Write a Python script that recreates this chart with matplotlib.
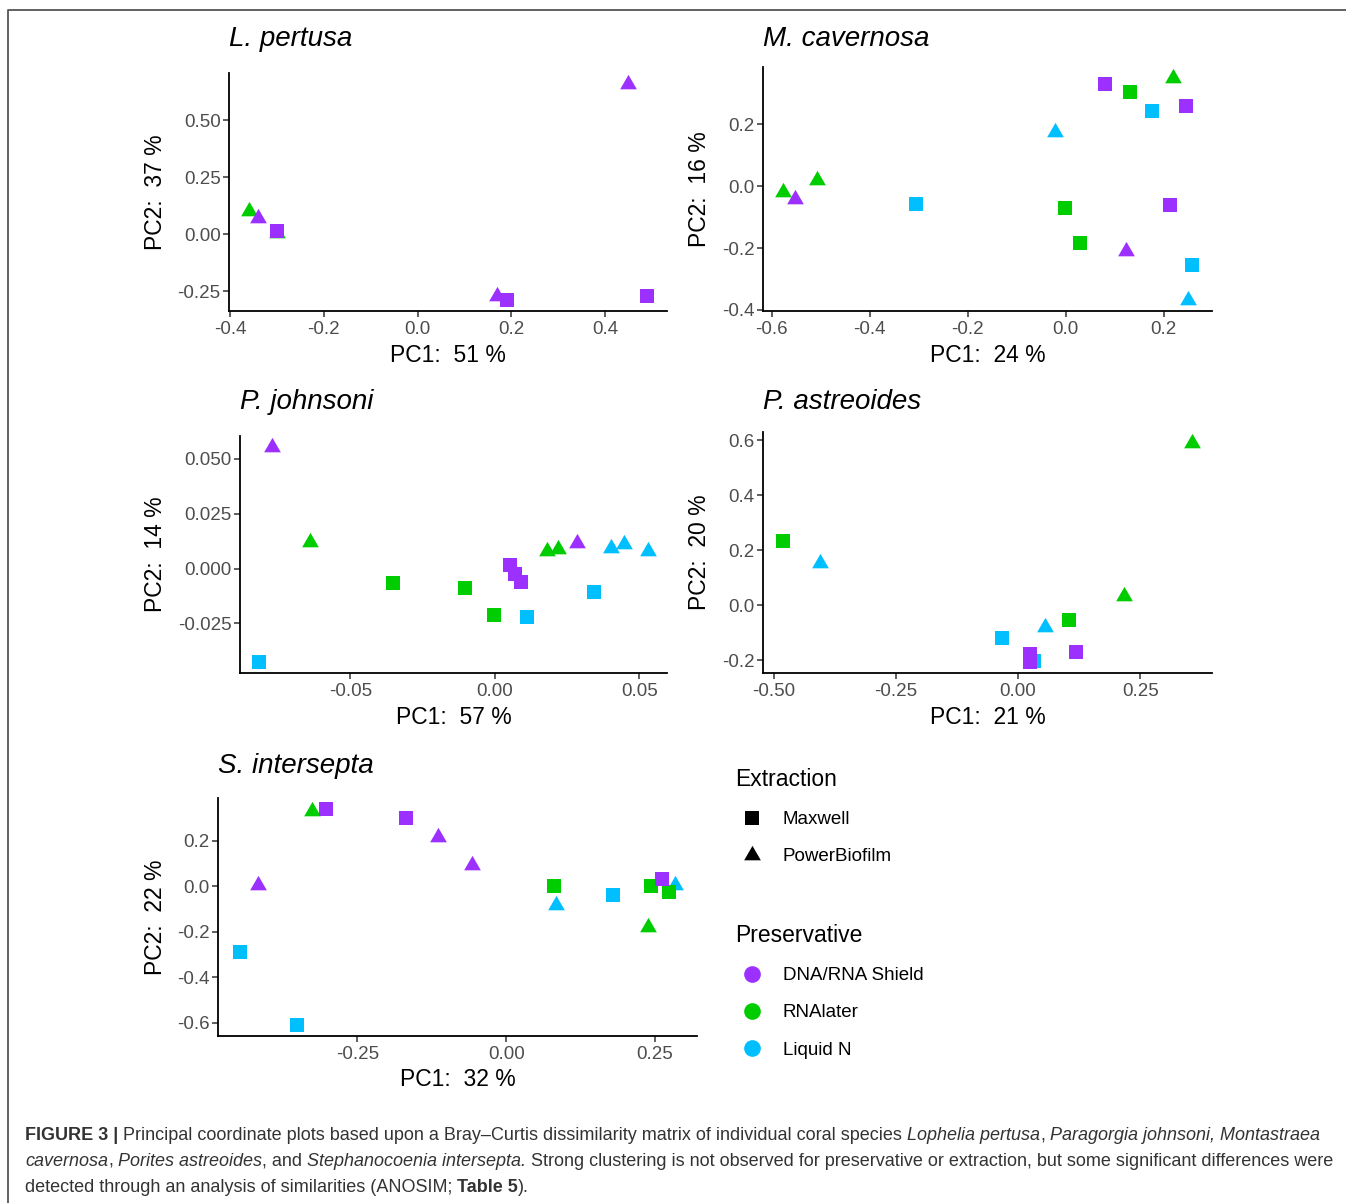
import matplotlib
matplotlib.use('Agg')
import matplotlib.pyplot as plt
from matplotlib.lines import Line2D
from matplotlib.ticker import MultipleLocator, FormatStrFormatter

W, H = 1346, 1203

plt.rcParams['font.family'] = ['Liberation Sans', 'DejaVu Sans']
plt.rcParams['axes.unicode_minus'] = False

# preservative: S = DNA/RNA Shield, R = RNAlater, L = Liquid N
# extraction:   M = Maxwell, P = PowerBiofilm
PRES_NAMES = ['DNA/RNA Shield', 'RNAlater', 'Liquid N']
PRES_KEYS = ['S', 'R', 'L']
EXT_NAMES = ['Maxwell', 'PowerBiofilm']
EXT_KEYS = ['M', 'P']

# L. pertusa
LP_PC1 = [-0.36, -0.34, -0.30, -0.30, 0.17, 0.19, 0.45, 0.49]
LP_PC2 = [0.10, 0.07, 0.005, 0.015, -0.27, -0.29, 0.66, -0.27]
LP_PRES = ['R', 'S', 'R', 'S', 'S', 'S', 'S', 'S']
LP_EXT = ['P', 'P', 'P', 'M', 'P', 'M', 'P', 'M']

# M. cavernosa
MC_PC1 = [-0.576, -0.553, -0.508, -0.305, -0.022, -0.002, 0.029, 0.081,
          0.131, 0.177, 0.220, 0.245, 0.212, 0.124, 0.257, 0.250]
MC_PC2 = [-0.020, -0.040, 0.020, -0.058, 0.175, -0.070, -0.185, 0.330,
          0.305, 0.242, 0.350, 0.259, -0.062, -0.211, -0.254, -0.368]
MC_PRES = ['R', 'S', 'R', 'L', 'L', 'R', 'R', 'S', 'R', 'L', 'R', 'S', 'S', 'S', 'L', 'L']
MC_EXT = ['P', 'P', 'P', 'M', 'P', 'M', 'M', 'M', 'M', 'M', 'P', 'M', 'M', 'P', 'M', 'P']

# P. johnsoni
PJ_PC1 = [-0.0773, -0.0639, -0.0815, -0.0352, -0.0102, -0.0004, 0.0113, 0.0051, 0.0069,
          0.0089, 0.0181, 0.0220, 0.0286, 0.0404, 0.0449, 0.0529, 0.0343]
PJ_PC2 = [0.0555, 0.0123, -0.0427, -0.0066, -0.0087, -0.0210, -0.0223, 0.0015, -0.0025,
          -0.0060, 0.0082, 0.0088, 0.0117, 0.0093, 0.0114, 0.0079, -0.0105]
PJ_PRES = ['S', 'R', 'L', 'R', 'R', 'R', 'L', 'S', 'S', 'S', 'R', 'R', 'S', 'L', 'L', 'L', 'L']
PJ_EXT = ['P', 'P', 'M', 'M', 'M', 'M', 'M', 'M', 'M', 'M', 'P', 'P', 'P', 'P', 'P', 'P', 'M']

# P. astreoides
PA_PC1 = [-0.480, -0.406, -0.033, 0.033, 0.024, 0.024, 0.055, 0.1045, 0.119, 0.216, 0.355]
PA_PC2 = [0.234, 0.155, -0.119, -0.205, -0.177, -0.207, -0.081, -0.0525, -0.171, 0.035, 0.590]
PA_PRES = ['R', 'L', 'L', 'L', 'S', 'S', 'L', 'R', 'S', 'R', 'R']
PA_EXT = ['M', 'P', 'M', 'M', 'M', 'M', 'P', 'M', 'M', 'P', 'P']

# S. intersepta
SI_PC1 = [-0.4476, -0.4177, -0.3518, -0.326, -0.3027, -0.169, -0.1147, -0.0566,
          0.081, 0.0844, 0.180, 0.2425, 0.238, 0.284, 0.273, 0.261]
SI_PC2 = [-0.288, 0.003, -0.610, 0.328, 0.339, 0.297, 0.215, 0.0907,
          0.0, -0.085, -0.037, 0.0, -0.180, 0.006, -0.026, 0.029]
SI_PRES = ['L', 'S', 'L', 'R', 'S', 'S', 'S', 'S', 'R', 'L', 'L', 'R', 'R', 'L', 'R', 'S']
SI_EXT = ['M', 'P', 'M', 'P', 'M', 'M', 'P', 'P', 'M', 'P', 'M', 'M', 'P', 'P', 'M', 'M']

COLORS = {'S': '#9B30FF', 'R': '#00CD00', 'L': '#00BFFF'}
TRI = [(-1, -0.577), (1, -0.577), (0, 1.155)]
MARKERS = {'M': 's', 'P': TRI}
MSIZE = {'M': 9.6, 'P': 13.9}

TICK_FS = 13.5
LAB_FS = 16.5
TITLE_FS = 20

fig = plt.figure(figsize=(W / 100, H / 100), dpi=100)


def fx(x):
    return x / W


def fy(y):
    return 1 - y / H


# (title, x, y, pres, ext, PC1 %, PC2 %, box l,t,r,b px, xstep, ystep, xfmt, yfmt, ylabel x, title y)
panels = [
    ('L. pertusa', LP_PC1, LP_PC2, LP_PRES, LP_EXT, 51, 37, (229, 73, 667, 311),
     0.2, 0.25, '%.1f', '%.2f', 155, 39),
    ('M. cavernosa', MC_PC1, MC_PC2, MC_PRES, MC_EXT, 24, 16, (763, 67, 1212, 311),
     0.2, 0.2, '%.1f', '%.1f', 700, 39),
    ('P. johnsoni', PJ_PC1, PJ_PC2, PJ_PRES, PJ_EXT, 57, 14, (240, 436, 667, 673),
     0.05, 0.025, '%.2f', '%.3f', 155, 402),
    ('P. astreoides', PA_PC1, PA_PC2, PA_PRES, PA_EXT, 21, 20, (763, 432, 1212, 673),
     0.25, 0.2, '%.2f', '%.1f', 700, 402),
    ('S. intersepta', SI_PC1, SI_PC2, SI_PRES, SI_EXT, 32, 22, (218, 798, 697, 1036),
     0.25, 0.2, '%.2f', '%.1f', 155, 766),
]

for (title, xs, ys, pres, ext, p1, p2, bx, xstep, ystep, xfmt, yfmt, ylx, ty) in panels:
    l, t, r, b = bx
    ax = fig.add_axes([fx(l), fy(b), (r - l) / W, (b - t) / H])
    for x, y, p, e in zip(xs, ys, pres, ext):
        ax.scatter([x], [y], marker=MARKERS[e], s=MSIZE[e] ** 2, color=COLORS[p],
                   linewidths=0, zorder=3)
    ax.margins(0.05)
    for side in ['top', 'right']:
        ax.spines[side].set_visible(False)
    for side in ['left', 'bottom']:
        ax.spines[side].set_linewidth(1.3)
        ax.spines[side].set_color('black')
    ax.xaxis.set_major_locator(MultipleLocator(xstep))
    ax.yaxis.set_major_locator(MultipleLocator(ystep))
    ax.xaxis.set_major_formatter(FormatStrFormatter(xfmt))
    ax.yaxis.set_major_formatter(FormatStrFormatter(yfmt))
    ax.tick_params(length=4, width=1.1, color='#333333', labelsize=TICK_FS,
                   labelcolor='#4D4D4D', pad=2)
    ax.tick_params(axis='x', pad=3.5)
    ax.set_xlabel('PC1:  %d %%' % p1, fontsize=LAB_FS, color='black')
    ax.set_ylabel('PC2:  %d %%' % p2, fontsize=LAB_FS, color='black')
    ax.xaxis.label.set_va('center')
    ax.yaxis.label.set_va('center')
    ax.xaxis.set_label_coords(fx((l + r) / 2), fy(b + 44), transform=fig.transFigure)
    ax.yaxis.set_label_coords(fx(ylx), fy((t + b) / 2), transform=fig.transFigure)
    fig.text(fx(l), fy(ty), title, fontsize=TITLE_FS, style='italic', ha='left', va='center')

# legends
LEG_FS = 13.5
LEG_TITLE_FS = 16.5
ext_handles = [Line2D([], [], marker=MARKERS[k], color='black', ls='none',
                      ms=MSIZE[k], mew=0) for k in EXT_KEYS]
pres_handles = [Line2D([], [], marker='o', color=COLORS[k], ls='none', ms=12, mew=0)
                for k in PRES_KEYS]
leg_kw = dict(loc='upper left', frameon=False, fontsize=LEG_FS, title_fontsize=LEG_TITLE_FS,
              alignment='left', borderpad=0, borderaxespad=0, handlelength=1.8,
              handletextpad=0.75, labelspacing=1.07)
fig.legend(ext_handles, EXT_NAMES, title='Extraction', bbox_to_anchor=(fx(735), fy(768)), **leg_kw)
fig.legend(pres_handles, PRES_NAMES, title='Preservative', bbox_to_anchor=(fx(735), fy(924)), **leg_kw)

# frame
fig.add_artist(Line2D([fx(8), fx(8), 1.0], [0, fy(10), fy(10)], transform=fig.transFigure,
                      color='#555555', lw=1.3))

# caption
CAP_FS = 13.0
CAP_COLOR = '#333333'
caption = [
    (1136, [('FIGURE 3 |', 'normal', 'bold'),
            (' Principal coordinate plots based upon a Bray\u2013Curtis dissimilarity matrix of individual coral species ', 'normal', 'normal'),
            ('Lophelia pertusa', 'italic', 'normal'),
            (', ', 'normal', 'normal'),
            ('Paragorgia johnsoni, Montastraea', 'italic', 'normal')]),
    (1161, [('cavernosa', 'italic', 'normal'),
            (', ', 'normal', 'normal'),
            ('Porites astreoides', 'italic', 'normal'),
            (', and ', 'normal', 'normal'),
            ('Stephanocoenia intersepta.', 'italic', 'normal'),
            (' Strong clustering is not observed for preservative or extraction, but some significant differences were', 'normal', 'normal')]),
    (1187, [('detected through an analysis of similarities (ANOSIM; ', 'normal', 'normal'),
            ('Table 5', 'normal', 'bold'),
            (').', 'normal', 'normal')]),
]
renderer = fig.canvas.get_renderer()
space_w = 0.278 * CAP_FS * 100 / 72
for y, parts in caption:
    x = 25
    for s, style, weight in parts:
        if s.startswith(' '):
            x += space_w
        txt = fig.text(fx(x), fy(y), s.strip(), fontsize=CAP_FS, style=style, weight=weight,
                       color=CAP_COLOR, ha='left', va='center')
        x += txt.get_window_extent(renderer).width
        if s.endswith(' '):
            x += space_w

fig.savefig('out.png', dpi=100)
